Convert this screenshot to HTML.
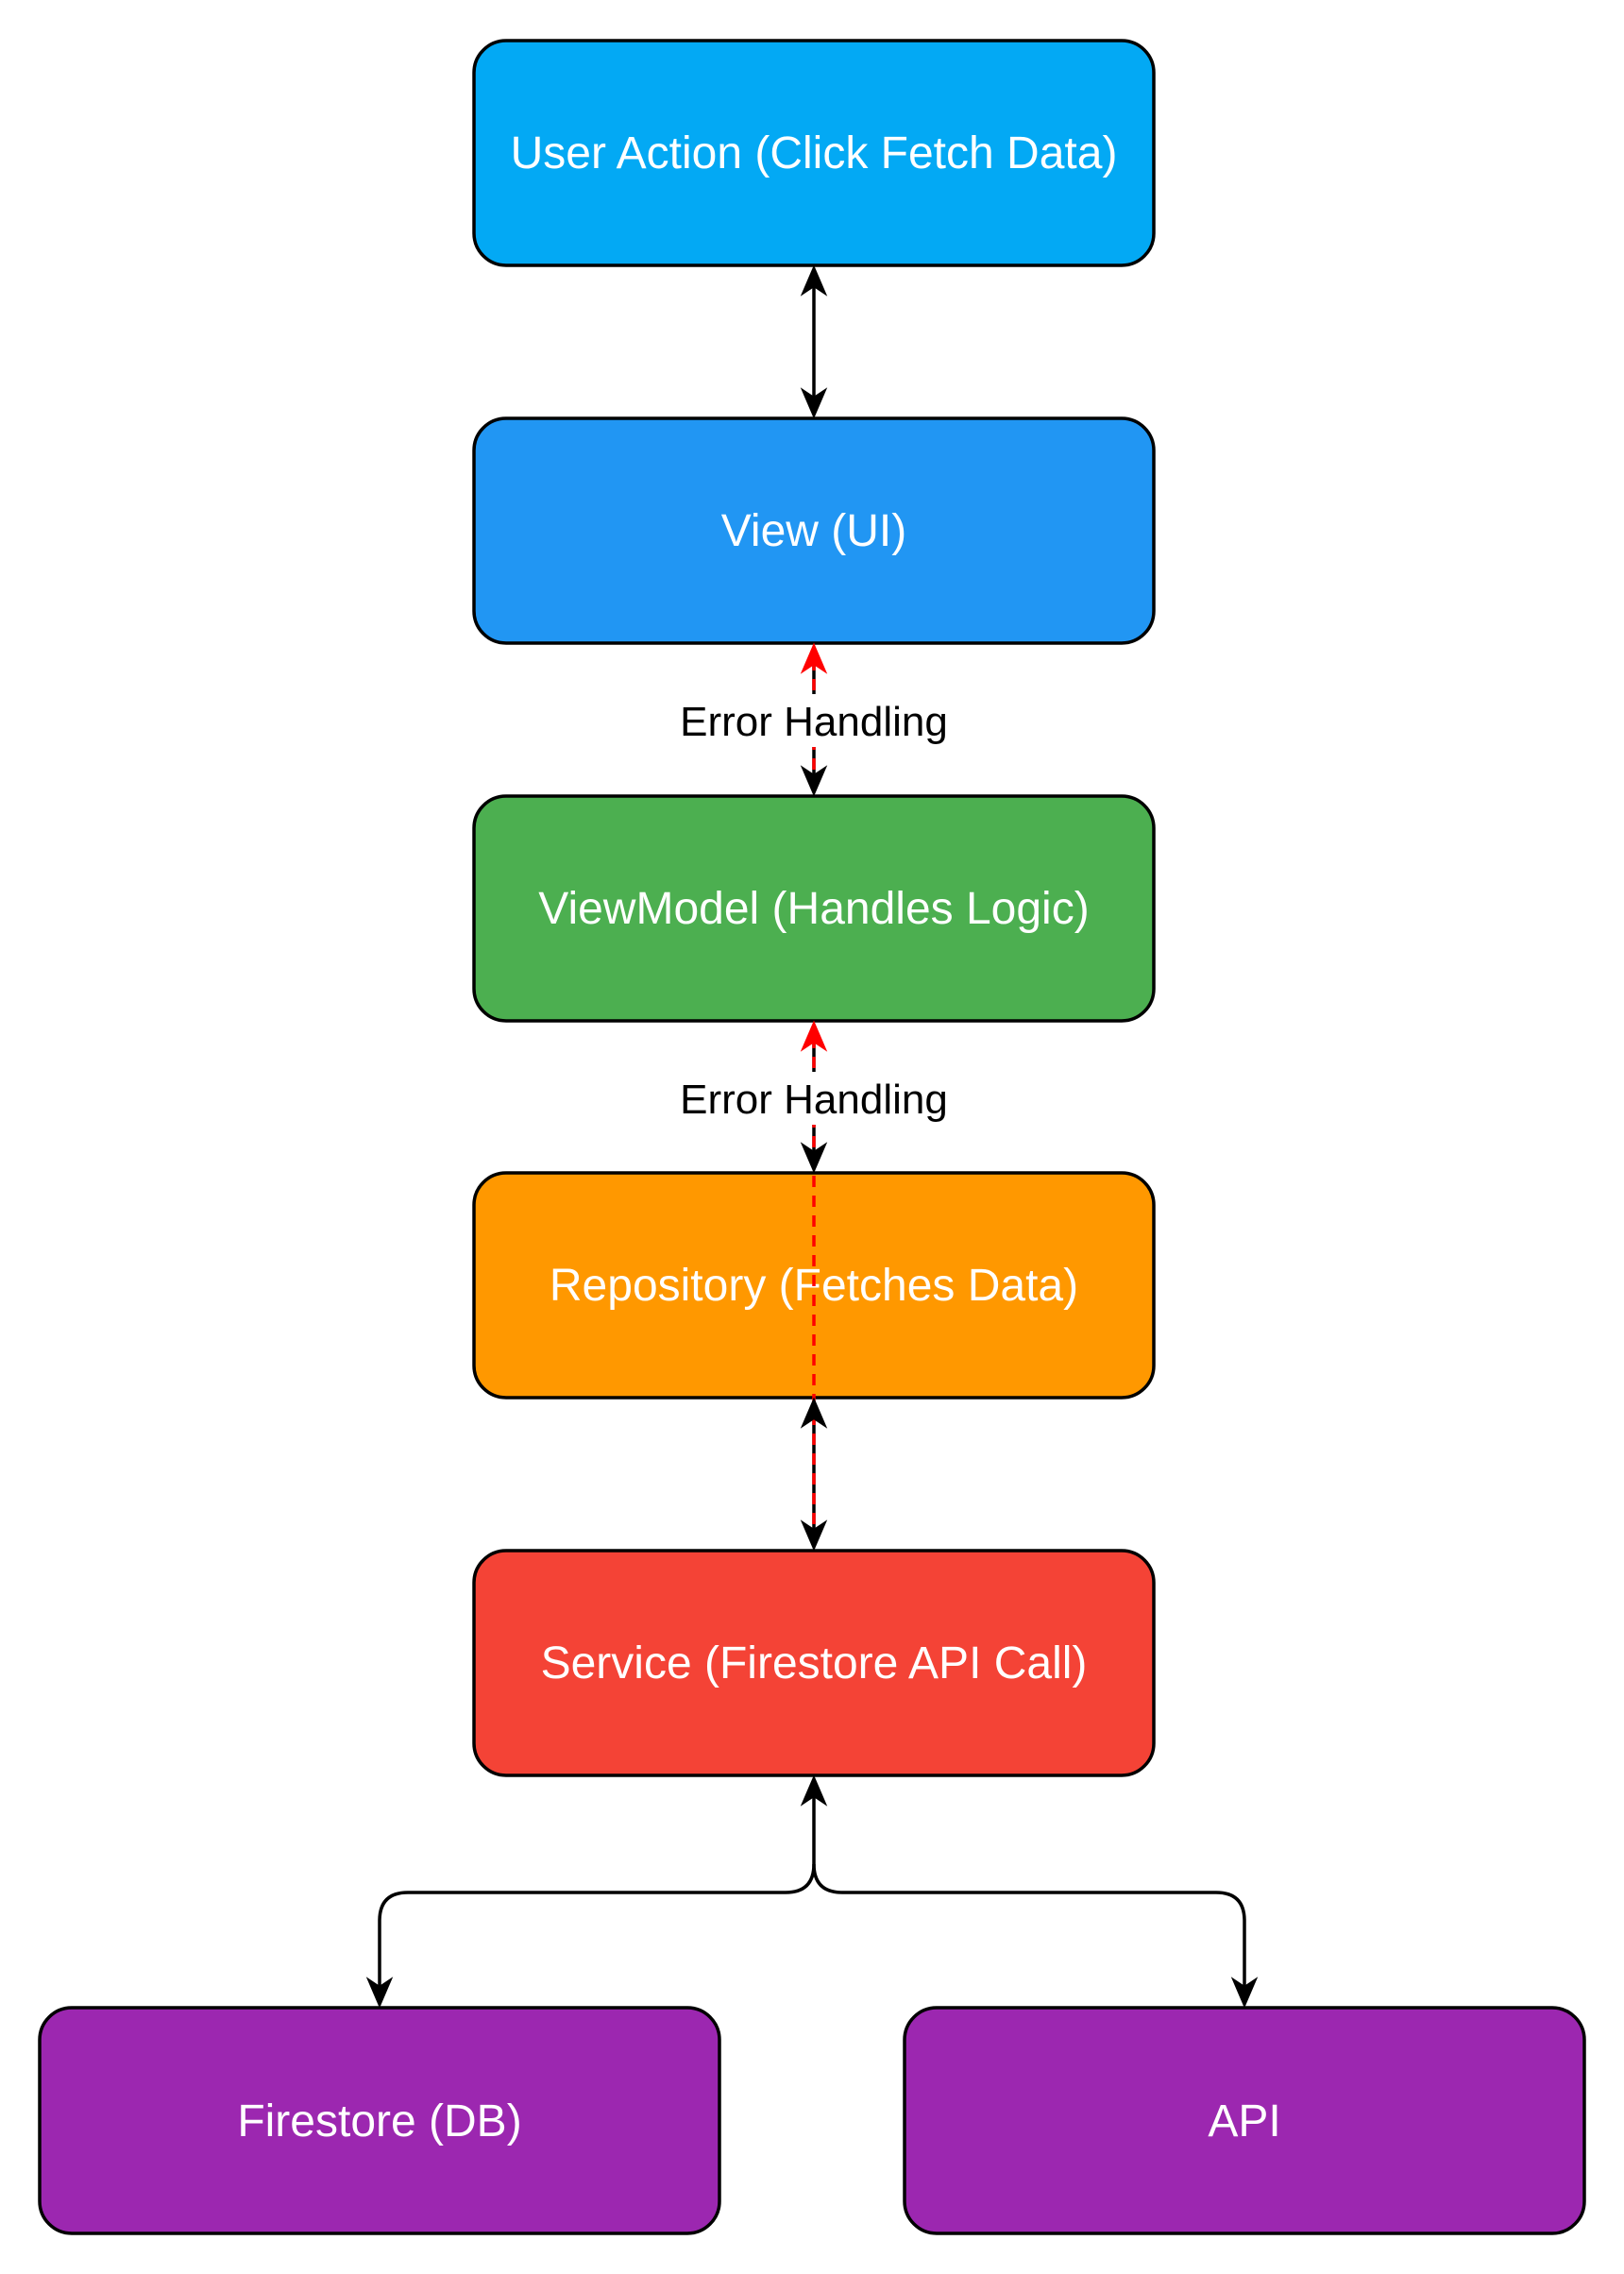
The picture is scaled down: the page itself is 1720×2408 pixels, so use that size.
<!DOCTYPE html>
<html><head><meta charset="utf-8"><style>
html,body{margin:0;padding:0;background:#fff;}
svg{display:block;}
text{font-family:"Liberation Sans",Arial,sans-serif;}
</style></head><body>
<svg width="1720" height="2408" viewBox="0 0 1720 2408" xmlns="http://www.w3.org/2000/svg">
<g stroke="#000" stroke-width="3.5">
<rect x="502" y="43" width="720" height="238" rx="34" fill="#03A9F4"/>
<rect x="502" y="443" width="720" height="238" rx="34" fill="#2196F3"/>
<rect x="502" y="843" width="720" height="238" rx="34" fill="#4CAF50"/>
<rect x="502" y="1242" width="720" height="238" rx="34" fill="#FF9800"/>
<rect x="502" y="1642" width="720" height="238" rx="34" fill="#F44336"/>
<rect x="42" y="2126" width="720" height="239" rx="34" fill="#9C27B0"/>
<rect x="958" y="2126" width="720" height="239" rx="34" fill="#9C27B0"/>
</g>
<g fill="#fff" font-size="48" text-anchor="middle">
<text x="862" y="178">User Action (Click Fetch Data)</text>
<text x="862" y="578">View (UI)</text>
<text x="862" y="978">ViewModel (Handles Logic)</text>
<text x="862" y="1377">Repository (Fetches Data)</text>
<text x="862" y="1777">Service (Firestore API Call)</text>
<text x="402" y="2262">Firestore (DB)</text>
<text x="1318" y="2262">API</text>
</g>
<g stroke="#000" stroke-width="3.5" fill="none">
<line x1="862" y1="298" x2="862" y2="426"/>
<line x1="862" y1="696" x2="862" y2="826"/>
<line x1="862" y1="1094" x2="862" y2="1225"/>
<line x1="862" y1="1494" x2="862" y2="1625"/>
<path d="M862 1898 V1974 Q862 2004 832 2004 H432 Q402 2004 402 2034 V2109"/>
<path d="M862 1974 Q862 2004 892 2004 H1288 Q1318 2004 1318 2034 V2109"/>
</g>
<g stroke="#FF0000" stroke-width="3.5" fill="none" stroke-dasharray="12 9">
<line x1="862" y1="698" x2="862" y2="843"/>
<line x1="862" y1="1098" x2="862" y2="1642"/>
</g>
<rect x="717" y="735" width="290" height="56" fill="#fff"/>
<rect x="717" y="1135" width="290" height="56" fill="#fff"/>
<g font-size="44" text-anchor="middle" fill="#000">
<text x="862" y="779">Error Handling</text>
<text x="862" y="1179">Error Handling</text>
</g>
<g fill="#000" stroke="#000" stroke-width="2">
<path d="M862 283 L850 311 L862 303 L874 311 Z"/>
<path d="M862 441 L850 413 L862 421 L874 413 Z"/>
<path d="M862 841 L850 813 L862 821 L874 813 Z"/>
<path d="M862 1240 L850 1212 L862 1220 L874 1212 Z"/>
<path d="M862 1482 L850 1510 L862 1502 L874 1510 Z"/>
<path d="M862 1640 L850 1612 L862 1620 L874 1612 Z"/>
<path d="M862 1882 L850 1910 L862 1902 L874 1910 Z"/>
<path d="M402 2124 L390 2096 L402 2104 L414 2096 Z"/>
<path d="M1318 2124 L1306 2096 L1318 2104 L1330 2096 Z"/>
</g>
<g fill="#FF0000" stroke="#FF0000" stroke-width="2">
<path d="M862 683 L850 711 L862 703 L874 711 Z"/>
<path d="M862 1083 L850 1111 L862 1103 L874 1111 Z"/>
</g>
</svg>
</body></html>
